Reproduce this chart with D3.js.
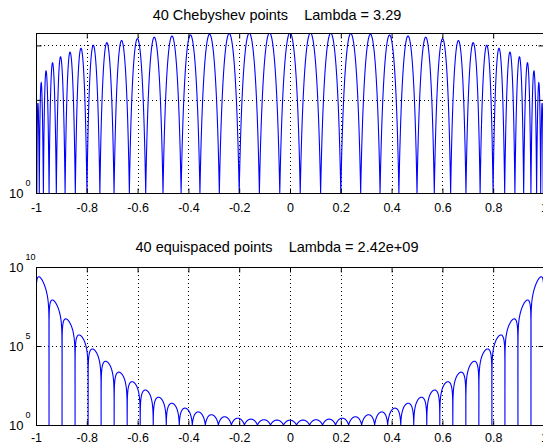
<!DOCTYPE html>
<meta charset="utf-8">
<style>
body { margin: 0; background: #fff; }
text { font-family: "Liberation Sans", Arial, sans-serif; fill: #000; }
.grid line { stroke: #000; stroke-width: 1; stroke-dasharray: 1,3; }
.frame { fill: none; stroke: #000; stroke-width: 1; }
.curve { fill: none; stroke: #0000ff; stroke-width: 1.1; }
</style>
<body>
<svg id="chart" width="543" height="445"></svg>
<script src="https://cdn.jsdelivr.net/npm/d3@7"></script>
<script>

// interpolation nodes (40 of each)
var chebNodes = [1, 0.99676, 0.98705, 0.97094, 0.94854, 0.91998, 0.88546, 0.84519, 0.79944, 0.74851,
  0.69272, 0.63245, 0.56807, 0.5, 0.42870, 0.35460, 0.27822, 0.20002, 0.12054, 0.04027,
  -0.04027, -0.12054, -0.20002, -0.27822, -0.35460, -0.42870, -0.5, -0.56807, -0.63245, -0.69272,
  -0.74851, -0.79944, -0.84519, -0.88546, -0.91998, -0.94854, -0.97094, -0.98705, -0.99676, -1];

var equiNodes = [-1, -0.94872, -0.89744, -0.84615, -0.79487, -0.74359, -0.69231, -0.64103, -0.58974, -0.53846,
  -0.48718, -0.43590, -0.38462, -0.33333, -0.28205, -0.23077, -0.17949, -0.12821, -0.07692, -0.02564,
  0.02564, 0.07692, 0.12821, 0.17949, 0.23077, 0.28205, 0.33333, 0.38462, 0.43590, 0.48718,
  0.53846, 0.58974, 0.64103, 0.69231, 0.74359, 0.79487, 0.84615, 0.89744, 0.94872, 1];

var xTicks = [-1, -0.8, -0.6, -0.4, -0.2, 0, 0.2, 0.4, 0.6, 0.8, 1];

var chebTitle = "40 Chebyshev points    Lambda = 3.29";
var equiTitle = "40 equispaced points    Lambda = 2.42e+09";

var chebYMax = 3.29, equiYMax = 1e10;
var chebGridY = [2, 3], equiGridY = [1e5];
var chebYLabels = [0], equiYLabels = [0, 5, 10];   // exponents of 10

var svg = d3.select("#chart");

var x = d3.scaleLinear().domain([-1, 1]).range([36, 544]);

// barycentric weights and Lebesgue function sum |l_j(x)|
function weights(nodes) {
  return nodes.map(function(xj, j) {
    var p = 1;
    nodes.forEach(function(xk, k) { if (k !== j) p *= (xj - xk); });
    return 1 / p;
  });
}
function lebesgue(nodes, w, t) {
  var num = 0, den = 0;
  for (var j = 0; j < nodes.length; j++) {
    var d = t - nodes[j];
    if (d === 0) return 1;
    var q = w[j] / d;
    num += Math.abs(q);
    den += q;
  }
  return num / Math.abs(den);
}

var panels = [
  {id: "p1", nodes: chebNodes, title: chebTitle, top: 33, bottom: 193, yMax: chebYMax, grid: chebGridY, labels: chebYLabels, titleY: 20, pad: 10},
  {id: "p2", nodes: equiNodes, title: equiTitle, top: 267, bottom: 425, yMax: equiYMax, grid: equiGridY, labels: equiYLabels, titleY: 252, pad: 8}
];

panels.forEach(function(p) {
  var y = d3.scaleLog().domain([1, p.yMax]).range([p.bottom, p.top]);
  var g = svg.append("g");

  svg.append("clipPath").attr("id", "clip-" + p.id)
    .append("rect")
    .attr("x", x(-1)).attr("y", p.top)
    .attr("width", x(1) - x(-1)).attr("height", p.bottom - p.top);

  // dotted grid
  var grid = g.append("g").attr("class", "grid");
  grid.selectAll(".gx").data(xTicks.slice(1, -1)).enter().append("line")
    .attr("x1", d => Math.round(x(d)) + 0.5).attr("x2", d => Math.round(x(d)) + 0.5)
    .attr("y1", p.top).attr("y2", p.bottom);
  grid.selectAll(".gy").data(p.grid).enter().append("line")
    .attr("x1", x(-1)).attr("x2", x(1))
    .attr("y1", d => Math.round(y(d)) + 0.5).attr("y2", d => Math.round(y(d)) + 0.5);

  // curve
  var w = weights(p.nodes);
  var xs = d3.range(4001).map(i => -1 + 2 * i / 4000).concat(p.nodes).sort(d3.ascending);
  var pts = xs.map(t => [t, Math.max(1, lebesgue(p.nodes, w, t))]);
  g.append("path").attr("class", "curve")
    .attr("clip-path", "url(#clip-" + p.id + ")")
    .attr("d", d3.line().x(d => x(d[0])).y(d => y(d[1]))(pts));

  // axes with inward ticks
  var fmt = d => String(d);
  g.append("g").attr("transform", "translate(0," + (p.bottom + 0.5) + ")")
    .call(d3.axisBottom(x).tickValues(xTicks).tickSize(-5).tickPadding(p.pad).tickFormat(fmt))
    .call(a => a.select(".domain").remove())
    .call(a => a.selectAll("text").attr("font-size", 12.5).attr("font-family", "Liberation Sans, Arial, sans-serif"));
  g.append("g").attr("transform", "translate(0," + (p.top + 0.5) + ")")
    .call(d3.axisTop(x).tickValues(xTicks).tickSize(-5).tickFormat(""))
    .call(a => a.select(".domain").remove());
  var yt = p.grid;
  g.append("g").attr("transform", "translate(" + (x(-1) + 0.5) + ",0)")
    .call(d3.axisLeft(y).tickValues(yt).tickSize(-5).tickFormat(""))
    .call(a => a.select(".domain").remove());
  g.append("g").attr("transform", "translate(" + (x(1) - 0.5) + ",0)")
    .call(d3.axisRight(y).tickValues(yt).tickSize(-5).tickFormat(""))
    .call(a => a.select(".domain").remove());

  g.append("rect").attr("class", "frame")
    .attr("x", x(-1) + 0.5).attr("y", p.top + 0.5)
    .attr("width", x(1) - x(-1)).attr("height", p.bottom - p.top);

  // y labels 10^k
  var lab = g.selectAll(".ylab").data(p.labels).enter().append("text")
    .attr("x", 9).attr("y", k => y(Math.pow(10, k)) + 5)
    .attr("font-size", 13);
  lab.append("tspan").text("10");
  lab.append("tspan").attr("dy", -12).attr("dx", 2).attr("font-size", 9).text(k => String(k));

  g.append("text").attr("x", (x(-1) + x(1)) / 2 - 13).attr("y", p.titleY)
    .attr("text-anchor", "middle").attr("font-size", 14.5)
    .style("white-space", "pre").text(p.title);
});

</script>
